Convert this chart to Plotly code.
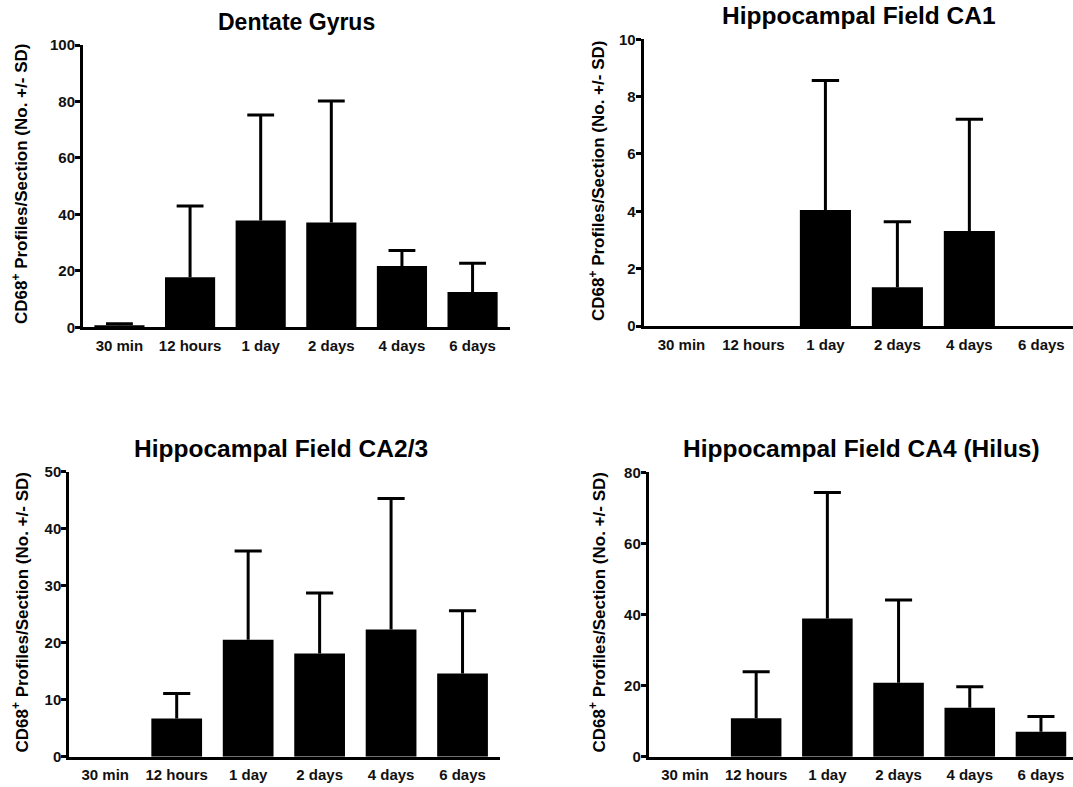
import plotly.graph_objects as go

# Time points after injury
timepoints = ["30 min", "12 hours", "1 day", "2 days", "4 days", "6 days"]

# CD68+ profile counts per section (mean) and the standard deviation
dg_mean = [0.7, 17.7, 37.8, 37.1, 21.7, 12.5]
dg_sd = [0.6, 25.3, 37.4, 43.1, 5.5, 10.2]

ca1_mean = [0, 0, 4.05, 1.35, 3.31, 0]
ca1_sd = [None, None, 4.51, 2.29, 3.90, None]

ca23_mean = [0, 6.7, 20.5, 18.1, 22.3, 14.6]
ca23_sd = [None, 4.4, 15.6, 10.6, 23.0, 11.0]

ca4_mean = [0, 10.8, 38.9, 20.8, 13.8, 7.0]
ca4_sd = [None, 13.1, 35.4, 23.3, 5.9, 4.3]

panel_titles = [
    "Dentate Gyrus",
    "Hippocampal Field CA1",
    "Hippocampal Field CA2/3",
    "Hippocampal Field CA4 (Hilus)",
]
y_title = "CD68<sup>+</sup> Profiles/Section (No. +/- SD)"

W, H = 1073, 787
FONT = "Liberation Sans, Arial, sans-serif"
BAR_WIDTH = 0.71
CAP_HALF = 0.19  # half-length of the SD cap, in category units


def px_x(p):
    return p / W


def px_y(p):
    return 1 - p / H


# per panel: means, sds, x-domain px, y-domain px (bottom, top), x range, y range, dtick
panels = [
    (dg_mean, dg_sd, (83, 510), (327.3, 45.0), (-0.516, 5.53), (0, 100), 20),
    (ca1_mean, ca1_sd, (643.7, 1073), (326.0, 39.3), (-0.525, 5.44), (0, 10), 2),
    (ca23_mean, ca23_sd, (69.3, 499.7), (756.7, 471.7), (-0.503, 5.52), (0, 50), 10),
    (ca4_mean, ca4_sd, (648.8, 1073), (756.7, 472.3), (-0.508, 5.45), (0, 80), 20),
]

title_pos = [(296, 21.7), (858.5, 15), (281, 448), (861, 448)]
title_size = [23, 24.5, 24.5, 24.5]
ytitle_pos = [(20, 184), (597, 181), (20, 612.5), (597, 612.5)]

fig = go.Figure()
layout = {}
annotations = []

for i, (mean, sd, xd, yd, xr, yr, dt) in enumerate(panels):
    n = "" if i == 0 else str(i + 1)
    xs = list(range(len(timepoints)))
    fig.add_trace(go.Bar(
        x=xs, y=mean, width=BAR_WIDTH,
        marker=dict(color="black", line=dict(width=0)),
        xaxis="x" + n, yaxis="y" + n, showlegend=False,
    ))
    # upper SD whiskers: stem from the bar top plus a cap
    ex, ey = [], []
    for k, (m, s) in enumerate(zip(mean, sd)):
        if s is None:
            continue
        ex += [k, k, None, k - CAP_HALF, k + CAP_HALF, None]
        ey += [m, m + s, None, m + s, m + s, None]
    fig.add_trace(go.Scatter(
        x=ex, y=ey, mode="lines",
        line=dict(color="black", width=3),
        xaxis="x" + n, yaxis="y" + n, showlegend=False, hoverinfo="skip",
    ))
    layout["xaxis" + n] = dict(
        domain=[px_x(xd[0]), min(1.0, px_x(xd[1]))],
        range=list(xr),
        anchor="y" + n,
        tickmode="array",
        tickvals=xs,
        ticktext=timepoints,
        ticks="",
        ticklabelstandoff=3,
        showline=True, linecolor="black", linewidth=2.5,
        showgrid=False, zeroline=False, automargin=False,
        tickfont=dict(family=FONT, size=15, color="#111111", weight="bold"),
        fixedrange=True,
    )
    layout["yaxis" + n] = dict(
        domain=[px_y(yd[0]), px_y(yd[1])],
        range=list(yr),
        anchor="x" + n,
        dtick=dt,
        ticks="outside", ticklen=5, tickwidth=2.5, tickcolor="black",
        ticklabelstandoff=-3,
        showline=True, linecolor="black", linewidth=3,
        showgrid=False, zeroline=False, automargin=False,
        tickfont=dict(family=FONT, size=15, color="#111111", weight="bold"),
        fixedrange=True,
    )
    annotations.append(dict(
        text=panel_titles[i], xref="paper", yref="paper",
        x=px_x(title_pos[i][0]), y=px_y(title_pos[i][1]),
        xanchor="center", yanchor="middle", showarrow=False,
        font=dict(family=FONT, size=title_size[i], color="black", weight="bold"),
    ))
    annotations.append(dict(
        text=y_title, xref="paper", yref="paper",
        x=px_x(ytitle_pos[i][0]), y=px_y(ytitle_pos[i][1]),
        xanchor="center", yanchor="middle", showarrow=False,
        textangle=-90,
        font=dict(family=FONT, size=17, color="black", weight="bold"),
    ))

fig.update_layout(
    width=W, height=H,
    margin=dict(l=0, r=0, t=0, b=0, autoexpand=False),
    paper_bgcolor="white", plot_bgcolor="white",
    annotations=annotations,
    **layout,
)

fig.write_html("out.html")
